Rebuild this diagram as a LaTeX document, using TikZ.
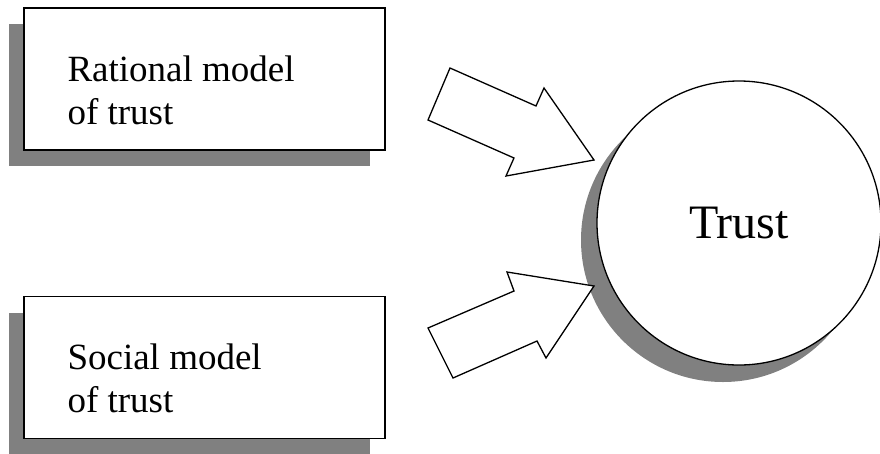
\documentclass[tikz,border=0pt]{standalone}
\usepackage{fontspec}
\setmainfont{Liberation Serif}
\usetikzlibrary{shadows}

\definecolor{shadowgray}{HTML}{808080}

\tikzset{
    modelbox/.style={draw,thick,line width=1.4pt,fill=white,minimum width=361pt,minimum height=142pt,
        drop shadow={shadow xshift=-15pt,shadow yshift=-16pt,fill=shadowgray,opacity=1}},
    modeltext/.style={anchor=base west,align=left,inner sep=0pt,font=\fontsize{37pt}{43pt}\selectfont},
    trustcircle/.style={circle,draw,line width=1.3pt,fill=white,minimum size=284pt,inner sep=0pt,
        font=\fontsize{48pt}{56pt}\selectfont,
        drop shadow={shadow xshift=-16pt,shadow yshift=-17pt,fill=shadowgray,opacity=1}},
    blockarrow/.style={draw,fill=white,line width=1.3pt,line join=miter}
}

\begin{document}
\begin{tikzpicture}[x=1pt,y=-1pt]
        \useasboundingbox (0,0) rectangle (880,453);
        \node[modelbox] (rational) at (204.5,79) {};
        \node[modeltext] (rationaltext) at ([shift={(44,117)}]rational.north west) {Rational model\\of trust};
        \node[modelbox] (social) at (204.5,367.5) {};
        \node[modeltext] (socialtext) at ([shift={(44,117)}]social.north west) {Social model\\of trust};
        \node[trustcircle] (trust) at (739,223) {Trust};
        \draw[blockarrow] (450,68) -- (536,106) -- (544,88) -- (594,160) -- (506,176) -- (514,158) -- (428,120) -- cycle;
        \draw[blockarrow] (428,328) -- (514,291) -- (507,272) -- (594,286) -- (546,358) -- (537,341) -- (453,378) -- cycle;
    \end{tikzpicture}
\end{document}
